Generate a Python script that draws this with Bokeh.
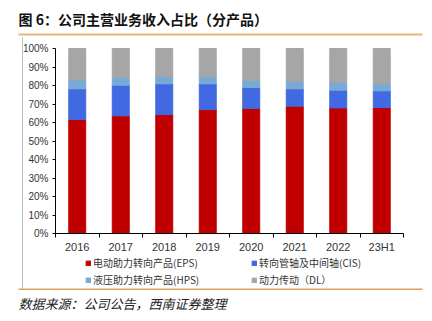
from bokeh.plotting import figure
from bokeh.models import (ColumnDataSource, Range1d, FixedTicker, PrintfTickFormatter,
                          Label, BoxAnnotation, Legend, LegendItem)
from bokeh.embed import file_html
from bokeh.resources import INLINE

years = ["2016", "2017", "2018", "2019", "2020", "2021", "2022", "23H1"]
eps = [61.6, 63.6, 64.3, 67.0, 67.6, 68.8, 67.9, 68.1]
cis = [16.6, 16.6, 16.6, 13.9, 11.3, 9.4, 9.6, 9.0]
hps = [4.9, 4.3, 4.0, 4.0, 3.8, 4.1, 4.3, 4.0]
dl = [16.9, 15.5, 15.1, 15.1, 17.3, 17.7, 18.2, 18.9]
series_names = ["电动助力转向产品(EPS)", "转向管轴及中间轴(CIS)", "液压助力转向产品(HPS)", "动力传动（DL）"]
title_text = "图 6：公司主营业务收入占比（分产品）"
source_text = "数据来源：公司公告，西南证券整理"

colors = ["#C00000", "#4169E1", "#79AAD5", "#A6A6A6"]

W, H = 432, 321
# plot area on the canvas (pixels): x 55..403, y 48 (100%) .. 233 (0%)
AX_L, AX_R, AX_T, AX_B = 55, 403, 48, 233
n = len(years)
px_per_x = (AX_R - AX_L) / n
px_per_y = (AX_B - AX_T) / 100.0

xpos = [i + 0.5 for i in range(n)]
src = ColumnDataSource(dict(x=xpos, eps=eps, cis=cis, hps=hps, dl=dl))

p = figure(width=W, height=H, output_backend="svg", toolbar_location=None,
           x_range=Range1d(-AX_L / px_per_x, n + (W - AX_R) / px_per_x),
           y_range=Range1d(-(H - AX_B) / px_per_y, 100 + AX_T / px_per_y),
           min_border=0, min_border_left=0, min_border_right=0,
           min_border_top=0, min_border_bottom=0)
p.background_fill_color = "white"
p.border_fill_color = "white"
p.outline_line_color = None
p.grid.visible = False

rs = p.vbar_stack(["eps", "cis", "hps", "dl"], x="x", width=0.39, color=colors, source=src)

# x axis
p.xaxis.fixed_location = 0
p.xaxis.bounds = (0, n)
p.xaxis.ticker = FixedTicker(ticks=xpos, minor_ticks=list(range(n + 1)))
p.xaxis.major_label_overrides = {x: y for x, y in zip(xpos, years)}
p.xaxis.major_tick_in = 0
p.xaxis.major_tick_out = 0
p.xaxis.minor_tick_in = 0
p.xaxis.minor_tick_out = 4
p.xaxis.minor_tick_line_color = "black"
p.xaxis.axis_line_color = "black"
p.xaxis.major_label_standoff = 3
p.xaxis.major_label_text_font = "Liberation Sans"
p.xaxis.major_label_text_font_size = "11px"
p.xaxis.major_label_text_color = "#333333"

# y axis
p.yaxis.fixed_location = 0
p.yaxis.bounds = (0, 100)
p.yaxis.ticker = FixedTicker(ticks=list(range(0, 101, 10)), minor_ticks=[])
p.yaxis.formatter = PrintfTickFormatter(format="%d%%")
p.yaxis.major_tick_in = 0
p.yaxis.major_tick_out = 3
p.yaxis.major_tick_line_color = "black"
p.yaxis.axis_line_color = "black"
p.yaxis.major_label_standoff = 4
p.yaxis.major_label_text_font = "Liberation Sans"
p.yaxis.major_label_text_font_size = "10px"
p.yaxis.major_label_text_color = "#333333"


def sy(cy):
    return H - cy


def hbox(left, right, top, bottom, color):
    return BoxAnnotation(left=left, right=right, top=sy(top), bottom=sy(bottom),
                         left_units="screen", right_units="screen",
                         top_units="screen", bottom_units="screen",
                         fill_color=color, fill_alpha=1, line_alpha=0, level="underlay")


p.add_layout(Label(x=18, y=sy(18), x_units="screen", y_units="screen", text=title_text,
                   text_font="Noto Sans CJK SC", text_font_size="14px", text_font_style="bold",
                   text_baseline="middle", text_color="#111111"))
p.add_layout(hbox(18, 422, 33, 35, "#E2B77A"))
p.add_layout(hbox(18, 422, 288, 289.5, "#D9A35E"))
p.add_layout(hbox(21.5, 22.5, 37, 288, "#BFBFBF"))
p.add_layout(Label(x=18, y=sy(303), x_units="screen", y_units="screen", text=source_text,
                   text_font="Noto Sans CJK SC", text_font_size="13px", text_font_style="italic",
                   text_baseline="middle", text_color="#222222"))


def make_legend(items, cx):
    return Legend(items=items, location=(cx, sy(287)), orientation="vertical",
                  glyph_width=6, glyph_height=6, label_height=12, label_standoff=2, spacing=2,
                  padding=0, margin=0, border_line_alpha=0, background_fill_alpha=0,
                  label_text_font="Noto Sans CJK SC", label_text_font_size="10px",
                  label_text_color="#333333")


leg1 = make_legend([LegendItem(label=series_names[0], renderers=[rs[0]]),
                    LegendItem(label=series_names[2], renderers=[rs[2]])], 85)
leg2 = make_legend([LegendItem(label=series_names[1], renderers=[rs[1]]),
                    LegendItem(label=series_names[3], renderers=[rs[3]])], 251)
p.add_layout(leg1, "center")
p.add_layout(leg2, "center")

open("out.html", "w").write(file_html(p, INLINE))
